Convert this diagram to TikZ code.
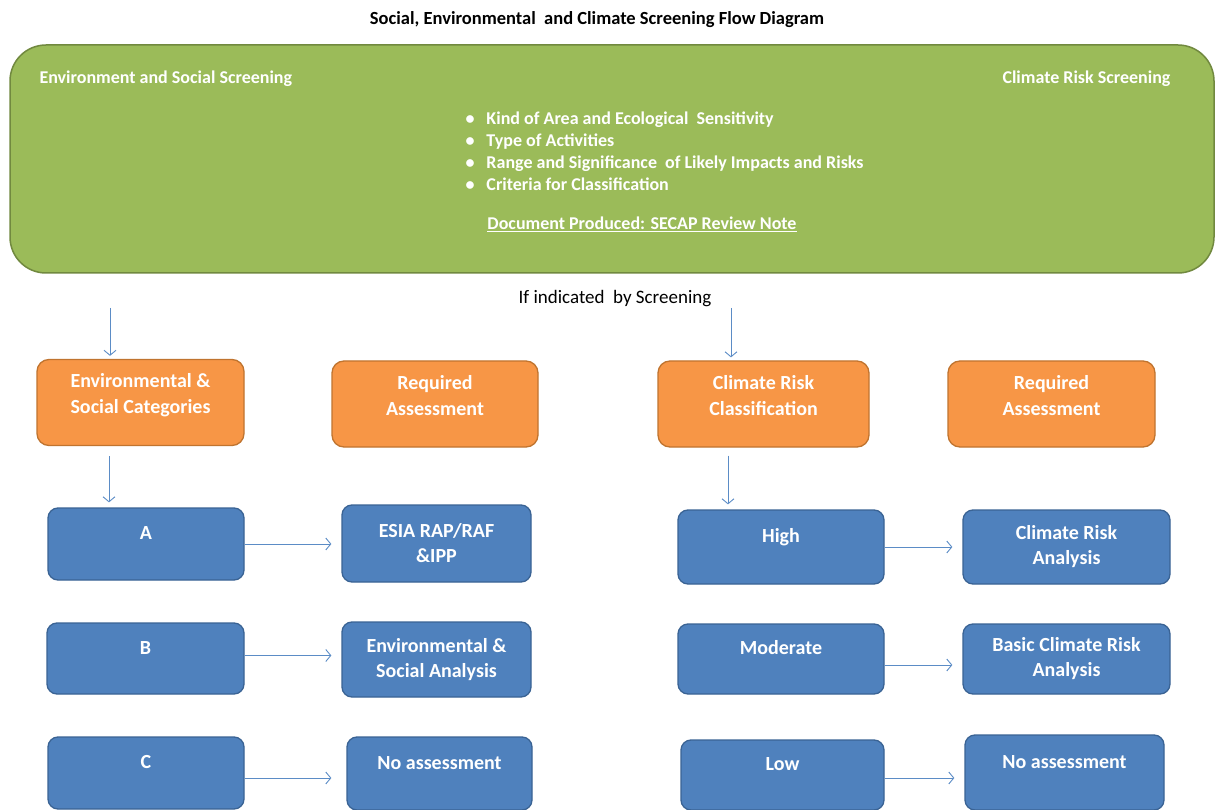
\documentclass[tikz,border=0pt]{standalone}
\usepackage{fontspec}
\setmainfont{Carlito}
\usetikzlibrary{arrows.meta,positioning}
\definecolor{ScreenGreen}{HTML}{9BBB59}
\definecolor{ScreenGreenLine}{HTML}{71893F}
\definecolor{CatOrange}{HTML}{F79646}
\definecolor{CatOrangeLine}{HTML}{C0742F}
\definecolor{LevelBlue}{HTML}{4F81BD}
\definecolor{LevelBlueLine}{HTML}{3A6394}
\definecolor{FlowBlue}{HTML}{5B8CC6}

\begin{document}
\begin{tikzpicture}[x=1pt,y=-1pt,
  headbox/.style={rounded corners=12pt,fill=CatOrange,draw=CatOrangeLine,line width=1.3pt,
    text=white,font=\fontsize{20}{26}\selectfont\bfseries,align=center,
    minimum height=86pt,inner sep=0pt,text depth=18pt},
  levelbox/.style={rounded corners=10pt,fill=LevelBlue,draw=LevelBlueLine,line width=1.3pt,
    text=white,font=\fontsize{20}{25}\selectfont\bfseries,inner sep=0pt},
  pairbox/.style={levelbox,align=center},
  tagbox/.style={levelbox,text height=10pt,text depth=19pt},
  flow/.style={draw=FlowBlue,line width=0.9pt,-{Straight Barb[length=5pt,width=12pt]}}]
  \useasboundingbox (0,0) rectangle (1216,810);
  \clip (0,0) rectangle (1216,810);
  \fill[white] (0,0) rectangle (1216,810);

  % title
  \node[font=\fontsize{18.5}{22}\selectfont\bfseries] (title) at (597,20)
    {Social,\ Environmental\ \ and\ Climate Screening Flow Diagram};

  % screening band
  \node[rounded corners=36pt,fill=ScreenGreen,draw=ScreenGreenLine,line width=1.5pt,
        minimum width=1204pt,minimum height=228pt] (screen) at (612,159) {};
  \node[white,font=\fontsize{18}{20}\selectfont\bfseries,anchor=west] (esscr) at (36,79)
    {Environment and Social\ Screening};
  \node[white,font=\fontsize{18}{20}\selectfont\bfseries,anchor=east] (crscr) at (1174,79)
    {Climate Risk Screening};
  \node[white,font=\fontsize{18}{22}\selectfont\bfseries,align=left,anchor=west] (crit) at (462,151)
    {\textbullet\hspace{12pt}Kind of Area and Ecological\ \ Sensitivity\\
     \textbullet\hspace{12pt}Type of Activities\\
     \textbullet\hspace{12pt}Range and Significance\ \ of Likely Impacts and Risks\\
     \textbullet\hspace{12pt}Criteria for Classification};
  \node[white,font=\fontsize{18}{20}\selectfont\bfseries] (doc) at (642,224)
    {\underline{Document Produced: SECAP Review Note}};

  \node[font=\fontsize{19}{22}\selectfont] (ifind) at (615,299) {If indicated\ \ by Screening};

  % environmental and social side
  \node[headbox,minimum width=207pt] (escat) at (140.5,402.5) {Environmental \&\\Social Categories};
  \node[headbox,minimum width=206pt] (esreq) at (435,404) {Required\\Assessment};
  \node[tagbox,minimum width=196pt,minimum height=72pt] (cata) at (146,544) {A};
  \node[pairbox,minimum width=189pt,minimum height=77pt] (esia) at (436.5,543.5) {ESIA RAP/RAF\\\&IPP};
  \node[tagbox,minimum width=197pt,minimum height=71pt] (catb) at (145.5,658.5) {B};
  \node[pairbox,minimum width=189pt,minimum height=75pt] (esan) at (436.5,659.5) {Environmental \&\\Social Analysis};
  \node[tagbox,minimum width=196pt,minimum height=72pt] (catc) at (146,773) {C};
  \node[tagbox,minimum width=185pt,minimum height=73pt] (esnone) at (439.5,773.5) {No assessment};

  % climate risk side
  \node[headbox,minimum width=211pt] (crcls) at (763.5,404) {Climate\ Risk\\Classification};
  \node[headbox,minimum width=207pt] (crreq) at (1051.5,404) {Required\\Assessment};
  \node[tagbox,minimum width=206pt,minimum height=74pt] (high) at (781,547) {High};
  \node[pairbox,minimum width=207pt,minimum height=74pt] (cran) at (1066.5,547) {Climate\ Risk\\Analysis};
  \node[tagbox,minimum width=206pt,minimum height=70pt] (moder) at (781,659) {Moderate};
  \node[pairbox,minimum width=207pt,minimum height=70pt] (bcran) at (1066.5,659) {Basic Climate\ Risk\\Analysis};
  \node[tagbox,minimum width=203pt,minimum height=70pt] (low) at (782.5,775) {Low};
  \node[tagbox,minimum width=199pt,minimum height=75pt] (crnone) at (1064.5,772.5) {No assessment};

  % connectors
  \coordinate (esin) at (110,308);
  \coordinate (crin) at (731,308);
  \draw[flow,shorten >=3pt] (esin) -- (esin |- escat.north);
  \draw[flow,shorten >=3pt] (crin) -- (crin |- crcls.north);
  \draw[flow,shorten <=10pt,shorten >=5pt] (escat.south -| 109,0) -- (cata.north -| 109,0);
  \draw[flow,shorten <=8pt,shorten >=5pt] (crcls.south -| 728,0) -- (high.north -| 728,0);
  \draw[flow,shorten >=10pt] (cata.east) -- (cata.east -| esia.west);
  \draw[flow,shorten >=10pt] ([yshift=3pt]catb.east) -- ([yshift=3pt]catb.east -| esan.west);
  \draw[flow,shorten >=15pt] ([yshift=-5pt]catc.east) -- ([yshift=-5pt]catc.east -| esnone.west);
  \draw[flow,shorten >=10pt] (high.east) -- (high.east -| cran.west);
  \draw[flow,shorten >=10pt] ([yshift=-6pt]moder.east) -- ([yshift=-6pt]moder.east -| bcran.west);
  \draw[flow,shorten >=10pt] ([yshift=-3pt]low.east) -- ([yshift=-3pt]low.east -| crnone.west);
\end{tikzpicture}
\end{document}
